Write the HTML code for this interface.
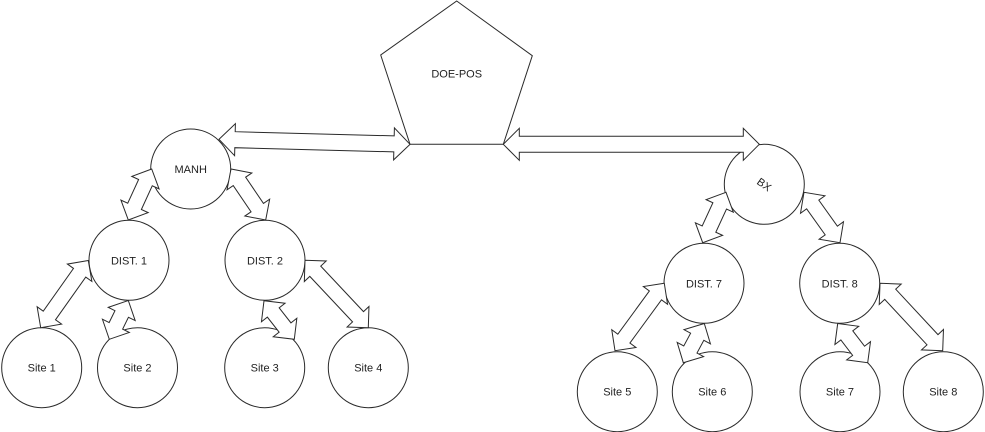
<!DOCTYPE html>
<html>
<head>
<meta charset="utf-8">
<style>
html,body{margin:0;padding:0;background:#fff;}
svg{display:block;}
text{font-family:"Liberation Sans",sans-serif;font-size:11px;fill:#222;}
</style>
</head>
<body>
<svg width="985" height="432" viewBox="0 0 985 432" xmlns="http://www.w3.org/2000/svg">
<g fill="#fff" stroke="#2a2a2a" stroke-width="1">
  <!-- pentagon -->
  <polygon points="456.7,1 532.3,55.7 503.3,144.3 410,144.3 380.7,55"/>
  <!-- circles -->
  <circle cx="190.7" cy="169" r="40"/>
  <circle cx="764.3" cy="184.3" r="40"/>
  <circle cx="129" cy="260.3" r="40"/>
  <circle cx="265" cy="260.3" r="40"/>
  <circle cx="41.7" cy="367.7" r="40"/>
  <circle cx="137.5" cy="367.7" r="40"/>
  <circle cx="264.7" cy="367.7" r="40"/>
  <circle cx="368.3" cy="367.7" r="40"/>
  <circle cx="704" cy="283.3" r="40"/>
  <circle cx="839.7" cy="283.3" r="40"/>
  <circle cx="617.3" cy="391.7" r="40"/>
  <circle cx="712.3" cy="391.7" r="40"/>
  <circle cx="840" cy="391.7" r="40"/>
  <circle cx="943.3" cy="391.7" r="40"/>

  <!-- big arrows -->
  <polygon points="219,139.3 234.6,155.7 234.8,147.7 393.8,151.9 393.6,159.9 410,144.3 394.4,127.9 394.2,135.9 235.2,131.7 235.4,123.7"/>
  <polygon points="503.3,144.3 519.3,160.3 519.3,152.3 743.3,152.3 743.3,160.3 759.3,144.3 743.3,128.3 743.3,136.3 519.3,136.3 519.3,128.3"/>

  <!-- left tree arrows -->
  <polygon points="151.7,169 131.81,176.38 138.63,179.51 127.74,203.24 120.92,200.11 128.3,220 148.19,212.62 141.37,209.49 152.26,185.76 159.08,188.89"/>
  <polygon points="231,169 227.04,189.84 233.24,185.62 251.06,211.82 244.86,216.04 265.7,220 269.66,199.16 263.46,203.38 245.64,177.18 251.84,172.96"/>
  <polygon points="88.3,260.5 67.39,264.07 73.51,268.41 43.25,311.13 37.13,306.79 40.7,327.7 61.61,324.13 55.49,319.8 85.75,277.08 91.87,281.41"/>
  <polygon points="128.3,300.5 108.23,307.38 114.97,310.67 109.16,322.53 102.43,319.23 109.3,339.3 129.37,332.43 122.63,329.13 128.44,317.27 135.18,320.57"/>
  <polygon points="264,300.7 261.46,321.76 267.36,317.13 279.14,332.13 273.24,336.76 294.3,339.3 296.84,318.24 290.94,322.87 279.16,307.87 285.06,303.24"/>
  <polygon points="305,260.3 304.33,281.5 309.8,276.37 352.56,321.9 347.1,327.03 368.3,327.7 368.97,306.5 363.5,311.63 320.74,266.1 326.2,260.97"/>

  <!-- right tree arrows -->
  <polygon points="726,192.3 706.09,199.62 712.9,202.77 702.19,225.94 695.38,222.79 702.7,242.7 722.61,235.38 715.8,232.23 726.51,209.06 733.32,212.21"/>
  <polygon points="804,192.3 800.51,213.22 806.62,208.87 825.18,234.85 819.08,239.21 840,242.7 843.49,221.78 837.39,226.14 818.82,200.15 824.92,195.79"/>
  <polygon points="664.3,283.3 643.34,286.55 649.39,290.98 617.8,334.17 611.75,329.74 615,350.7 635.96,347.45 629.91,343.02 661.5,299.84 667.55,304.26"/>
  <polygon points="704.3,323.5 683.99,329.64 690.61,333.18 683.77,345.94 677.16,342.39 683.3,362.7 703.61,356.56 696.99,353.02 703.83,340.27 710.44,343.81"/>
  <polygon points="837.7,323.5 834.9,344.53 840.86,339.97 852.63,355.35 846.67,359.9 867.7,362.7 870.5,341.67 864.54,346.23 852.77,330.85 858.73,326.3"/>
  <polygon points="880,283.3 879.23,304.5 884.73,299.39 926.99,344.83 921.5,349.93 942.7,350.7 943.47,329.5 937.98,334.61 895.71,289.18 901.2,284.07"/>
</g>

<g text-anchor="middle">
  <text x="456.7" y="77.3">DOE-POS</text>
  <text x="190.7" y="173">MANH</text>
  <text x="764.3" y="188.3" transform="rotate(35 764.3 184.3)">BX</text>
  <text x="129" y="264.3">DIST. 1</text>
  <text x="265" y="264.3">DIST. 2</text>
  <text x="41.7" y="371.7">Site 1</text>
  <text x="137.5" y="371.7">Site 2</text>
  <text x="264.7" y="371.7">Site 3</text>
  <text x="368.3" y="371.7">Site 4</text>
  <text x="704" y="287.3">DIST. 7</text>
  <text x="839.7" y="287.3">DIST. 8</text>
  <text x="617.3" y="395.7">Site 5</text>
  <text x="712.3" y="395.7">Site 6</text>
  <text x="840" y="395.7">Site 7</text>
  <text x="943.3" y="395.7">Site 8</text>
</g>
</svg>
</body>
</html>
